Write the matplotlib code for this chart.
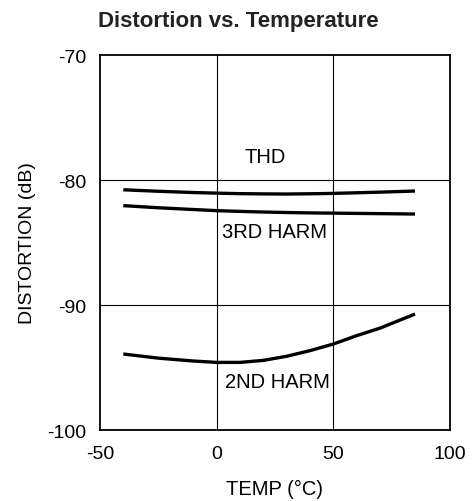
import matplotlib
matplotlib.use("Agg")
import matplotlib.pyplot as plt

plt.rcParams['font.family'] = ['Liberation Sans', 'DejaVu Sans']
plt.rcParams['axes.unicode_minus'] = False

temp = [-40, -25, -10, 0, 10, 20, 30, 40, 50, 60, 70, 85]
thd = [-80.78, -80.9, -81.0, -81.05, -81.09, -81.11, -81.12, -81.1, -81.07, -81.02, -80.97, -80.88]
harm3 = [-82.05, -82.22, -82.36, -82.45, -82.51, -82.56, -82.6, -82.63, -82.65, -82.67, -82.69, -82.72]
harm2 = [-93.92, -94.25, -94.48, -94.59, -94.59, -94.43, -94.1, -93.65, -93.12, -92.45, -91.85, -90.72]

xticks = [-50, 0, 50, 100]
yticks = [-100, -90, -80, -70]

fig = plt.figure(figsize=(4.77, 5.02), dpi=100)
ax = fig.add_axes([0.2096, 0.1414, 0.7338, 0.747])

# grid lines at the inner ticks only
for v in [0, 50]:
    ax.axvline(v, color='k', lw=0.8, zorder=1)
for v in [-90, -80]:
    ax.axhline(v, color='k', lw=0.8, zorder=1)

for y in [thd, harm3, harm2]:
    ax.plot(temp, y, color='k', lw=2.4, zorder=3, solid_capstyle='butt')

ax.text(20.7, -78.1, "THD", fontsize=14.5, ha='center', va='center')
ax.text(25, -84.1, "3RD HARM", fontsize=14.5, ha='center', va='center',
        bbox=dict(facecolor='white', edgecolor='none', pad=0.5))
ax.text(26, -96.1, "2ND HARM", fontsize=14.5, ha='center', va='center',
        bbox=dict(facecolor='white', edgecolor='none', pad=0.5))

ax.set_xlim(-50, 100)
ax.set_ylim(-100, -70)
ax.set_xticks(xticks)
ax.set_yticks(yticks)
ax.tick_params(length=0, labelsize=14, pad=10)
ax.tick_params(axis='x', pad=11)
for s in ax.spines.values():
    s.set_linewidth(1.3)

ax.set_xlabel("TEMP (°C)", fontsize=14.5, labelpad=12)
ax.set_ylabel("DISTORTION (dB)", fontsize=14, labelpad=8)
fig.text(0.5, 0.958, "Distortion vs. Temperature", fontsize=16, fontweight='bold',
         ha='center', va='center', color='#222222')

fig.savefig("out.png", dpi=100)
